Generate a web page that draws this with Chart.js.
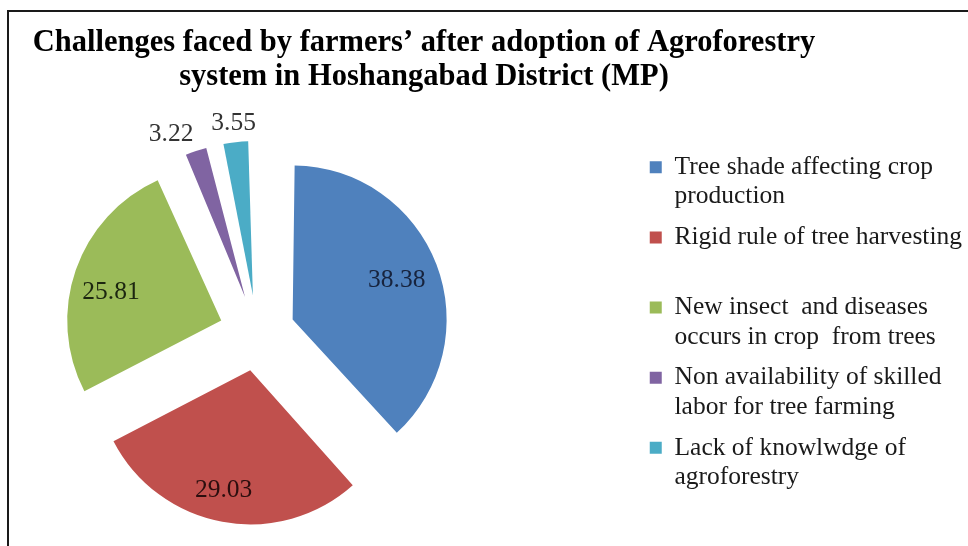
<!DOCTYPE html>
<html>
<head>
<meta charset="utf-8">
<script src="https://cdn.jsdelivr.net/npm/chart.js@4.4.1/dist/chart.umd.min.js"></script>
<style>
  html, body { margin: 0; padding: 0; background: #fff; }
  #wrap { position: relative; width: 968px; height: 546px; overflow: hidden; }
  /* the canvas starts left of the page so the pie sits left of the centred title */
  #wrap canvas { position: absolute; left: -124px; top: 0; }
  #frame {
    position: absolute; left: 7px; top: 10px; right: -10px; bottom: -10px;
    border-top: 2px solid #1a1a1a; border-left: 2px solid #1a1a1a;
    pointer-events: none;
  }
</style>
</head>
<body>
<div id="wrap">
  <canvas id="chart" width="1096" height="546"></canvas>
  <div id="frame"></div>
</div>
<script>
// Challenges faced by farmers (% of respondents)
const categories = [
  "Tree shade affecting crop production",
  "Rigid rule of tree harvesting",
  "New insect  and diseases occurs in crop  from trees",
  "Non availability of skilled labor for tree farming",
  "Lack of knowlwdge of agroforestry"
];
const legendLines = [
  ["Tree shade affecting crop", "production"],
  ["Rigid rule of tree harvesting", ""],
  ["New insect  and diseases", "occurs in crop  from trees"],
  ["Non availability of skilled", "labor for tree farming"],
  ["Lack of knowlwdge of", "agroforestry"]
];
const shares = [38.38, 29.03, 25.81, 3.22, 3.55];
const titleLines = [
  "Challenges faced by farmers\u2019 after adoption of Agroforestry",
  "system in Hoshangabad District (MP)"
];

const sliceColors = ["#4F81BD", "#C0504D", "#9BBB59", "#8064A2", "#4BACC6"];
const labelColors = ["#17233d", "#2b0e0e", "#1c2610", "#333333", "#333333"];

const PIE_RADIUS = 154;   // px
const EXPLODE = 152;      // arc offset option (slices move out by a quarter of it)
const SERIF = '"Liberation Serif", "Times New Roman", serif';

// Keep every exploded slice at the same radius (Chart.js enlarges narrow slices by part of the offset).
const explodedPie = {
  id: 'explodedPie',
  afterDatasetUpdate(chart, args) {
    const shift = EXPLODE / 4;
    args.meta.data.forEach(arc => {
      const lift = shift * (1 - Math.sin(Math.min(Math.PI, arc.circumference)));
      arc.outerRadius = PIE_RADIUS - lift;
    });
  }
};

// Value labels placed relative to each (shifted) slice.
const valueLabels = {
  id: 'valueLabels',
  afterDatasetsDraw(chart, args, opts) {
    const ctx = chart.ctx;
    const meta = chart.getDatasetMeta(0);
    const shift = EXPLODE / 4;
    ctx.save();
    ctx.font = opts.size + 'px ' + SERIF;
    ctx.textAlign = 'center';
    ctx.textBaseline = 'middle';
    meta.data.forEach((arc, i) => {
      const mid = (arc.startAngle + arc.endAngle) / 2;
      const cx = arc.x + Math.cos(mid) * shift;
      const cy = arc.y + Math.sin(mid) * shift;
      const p = opts.placement[i];
      const ang = mid + p.turn * Math.PI / 180;
      const dist = p.radial * PIE_RADIUS;
      ctx.fillStyle = opts.colors[i];
      ctx.fillText(shares[i].toFixed(2), cx + Math.cos(ang) * dist, cy + Math.sin(ang) * dist);
    });
    ctx.restore();
  }
};

new Chart(document.getElementById('chart'), {
  type: 'pie',
  data: {
    labels: categories,
    datasets: [{
      data: shares,
      backgroundColor: sliceColors,
      borderWidth: 0,
      offset: EXPLODE,
      hoverOffset: 0,
      radius: PIE_RADIUS,
      clip: false
    }]
  },
  options: {
    responsive: false,
    animation: false,
    events: [],
    devicePixelRatio: 1,
    layout: { padding: { left: 0, right: 0, top: 0, bottom: 23 } },
    plugins: {
      title: {
        display: true,
        text: titleLines,
        color: '#000',
        font: { family: SERIF, size: 30.5, weight: 'bold', lineHeight: 1.09 },
        padding: { top: 27, bottom: 49.5 }
      },
      legend: {
        position: 'right',
        align: 'start',
        fullSize: false,
        labels: {
          boxWidth: 12,
          boxHeight: 12,
          padding: 11.5,
          color: '#1a1a1a',
          font: { family: SERIF, size: 25.5, lineHeight: 1.15 },
          generateLabels: () => legendLines.map((lines, i) => ({
            text: lines,
            fillStyle: sliceColors[i],
            strokeStyle: sliceColors[i],
            lineWidth: 0,
            hidden: false,
            index: i,
            fontColor: '#1a1a1a'
          }))
        }
      },
      tooltip: { enabled: false },
      valueLabels: {
        size: 25.5,
        colors: labelColors,
        placement: [
          { radial: 0.723, turn: 0.2 },
          { radial: 0.796, turn: 2.1 },
          { radial: 0.739, turn: -4.8 },
          { radial: 1.162, turn: -5.8 },
          { radial: 1.123, turn: 0 }
        ]
      }
    }
  },
  plugins: [explodedPie, valueLabels]
});
</script>
</body>
</html>
